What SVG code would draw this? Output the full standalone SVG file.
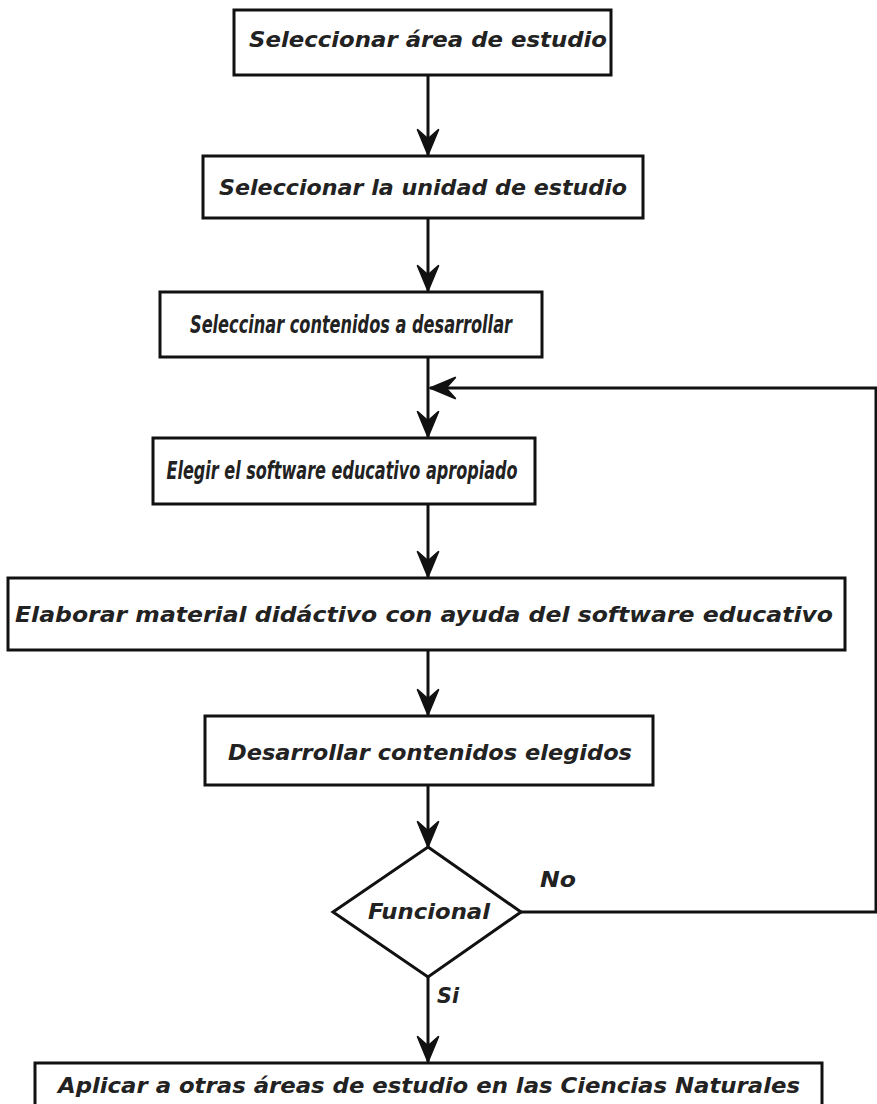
<svg xmlns="http://www.w3.org/2000/svg" width="877" height="1104" viewBox="0 0 877 1104">
<style>
.box{fill:#fff;stroke:#111;stroke-width:3}
.t{font-family:"DejaVu Sans","Liberation Sans",sans-serif;font-weight:bold;font-style:italic;font-size:22px;fill:#222;text-anchor:middle}
.cd{font-family:"DejaVu Sans Condensed","DejaVu Sans","Liberation Sans",sans-serif}
.lg{font-size:24px}
.c{fill:none;stroke:#111;stroke-width:3}
</style>
<defs>
<marker id="ah" markerUnits="userSpaceOnUse" markerWidth="30" markerHeight="30" viewBox="-26 -12 28 24" refX="0" refY="0" orient="auto">
<path d="M0,0 L-24,-10 L-15,0 L-24,10 Z" fill="#111" stroke="#111" stroke-width="1.5" stroke-linejoin="miter"/>
</marker>
</defs>
<rect width="877" height="1104" fill="#fff"/>
<g id="connectors">
<line class="c" x1="428" y1="75" x2="428" y2="155" marker-end="url(#ah)"/>
<line class="c" x1="428" y1="218" x2="428" y2="291" marker-end="url(#ah)"/>
<line class="c" x1="428" y1="357" x2="428" y2="437" marker-end="url(#ah)"/>
<polyline class="c" points="521,912 876,912 876,388 430,388" marker-end="url(#ah)"/>
<line class="c" x1="428" y1="504" x2="428" y2="577" marker-end="url(#ah)"/>
<line class="c" x1="428" y1="650" x2="428" y2="715" marker-end="url(#ah)"/>
<line class="c" x1="428" y1="785" x2="428" y2="847" marker-end="url(#ah)"/>
<line class="c" x1="428" y1="977" x2="428" y2="1062" marker-end="url(#ah)"/>
<text class="t" x="558" y="887" textLength="36" lengthAdjust="spacingAndGlyphs">No</text>
<text class="t" x="448" y="1003" textLength="22" lengthAdjust="spacingAndGlyphs">Si</text>
</g>
<g id="n1">
<rect class="box" x="234" y="10" width="377" height="65"/>
<text class="t" x="428" y="47" textLength="358" lengthAdjust="spacingAndGlyphs">Seleccionar área de estudio</text>
</g>
<g id="n2">
<rect class="box" x="203" y="156" width="440" height="62"/>
<text class="t" x="423" y="195" textLength="408" lengthAdjust="spacingAndGlyphs">Seleccionar la unidad de estudio</text>
</g>
<g id="n3">
<rect class="box" x="160" y="292" width="382" height="65"/>
<text class="t cd lg" x="351" y="333" textLength="322" lengthAdjust="spacingAndGlyphs">Seleccinar contenidos a desarrollar</text>
</g>
<g id="n4">
<rect class="box" x="153" y="438" width="382" height="66"/>
<text class="t cd lg" x="342" y="479" textLength="351" lengthAdjust="spacingAndGlyphs">Elegir el software educativo apropiado</text>
</g>
<g id="n5">
<rect class="box" x="8" y="578" width="837" height="72"/>
<text class="t cd" x="424" y="622" textLength="818" lengthAdjust="spacingAndGlyphs">Elaborar material didáctivo con ayuda del software educativo</text>
</g>
<g id="n6">
<rect class="box" x="205" y="716" width="448" height="69"/>
<text class="t" x="430" y="760" textLength="404" lengthAdjust="spacingAndGlyphs">Desarrollar contenidos elegidos</text>
</g>
<g id="n7">
<polygon class="box" points="428,847 521,912 428,977 333,912"/>
<text class="t" x="429" y="919" textLength="122" lengthAdjust="spacingAndGlyphs">Funcional</text>
</g>
<g id="n8">
<rect class="box" x="35" y="1063" width="787" height="50"/>
<text class="t cd" x="429" y="1093" textLength="742" lengthAdjust="spacingAndGlyphs">Aplicar a otras áreas de estudio en las Ciencias Naturales</text>
</g>
</svg>
